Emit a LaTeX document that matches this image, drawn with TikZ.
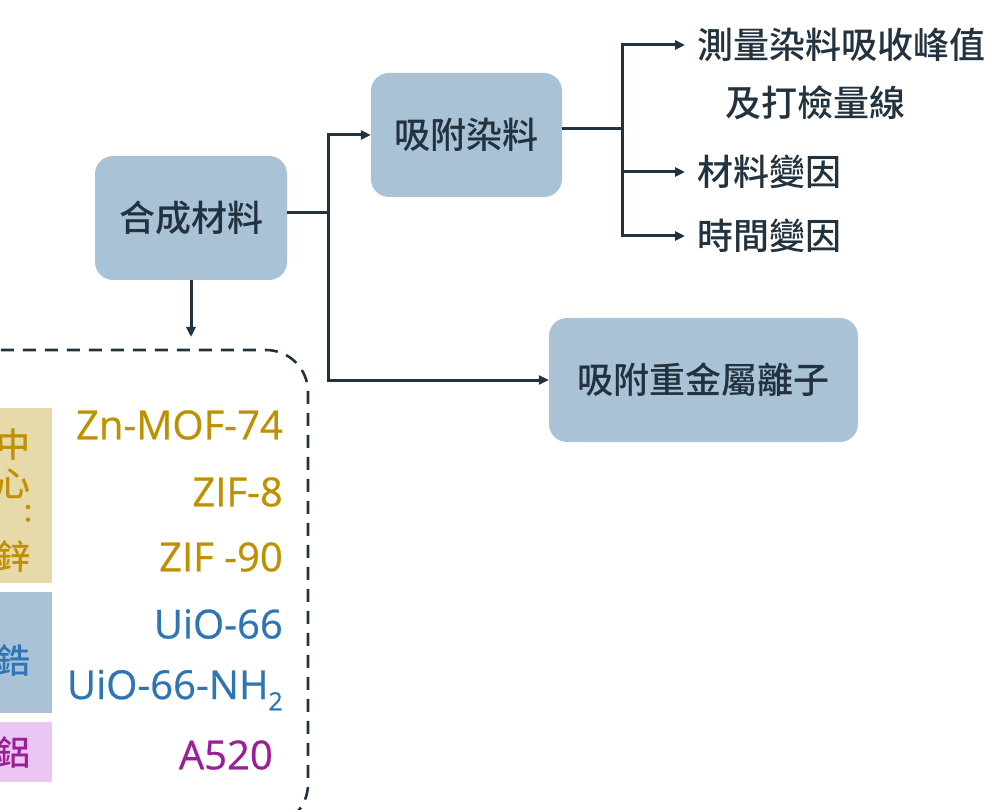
\documentclass[tikz,border=0pt]{standalone}
\usepackage{fontspec}
\setmainfont{Noto Sans CJK TC}[UprightFont=* Medium]
\newfontfamily\lat{Open Sans}[FakeBold=0.6]
\usetikzlibrary{arrows.meta}
\definecolor{boxfill}{HTML}{A9C2D5}
\definecolor{ink}{HTML}{22323E}
\definecolor{gold}{HTML}{BF9000}
\definecolor{goldfill}{HTML}{E6DAAB}
\definecolor{zrblue}{HTML}{2E75B6}
\definecolor{purp}{HTML}{9B1E96}
\definecolor{pinkfill}{HTML}{EBC6F2}
\tikzset{
  procbox/.style={fill=boxfill, rounded corners=18pt, text=ink, font=\fontsize{36}{42}\selectfont, inner sep=0pt},
  conn/.style={draw=ink, line width=3pt},
  arr/.style={conn, -{Triangle[length=10pt,width=9pt]}},
  lbl/.style={text=ink, font=\fontsize{36}{42}\selectfont, anchor=west, inner sep=0pt},
  mof/.style={anchor=east, inner sep=0pt, font=\lat\fontsize{40}{44}\selectfont},
  stripch/.style={inner sep=0pt, font=\fontsize{34}{38}\selectfont}
}
\begin{document}
\begin{tikzpicture}[x=1pt,y=-1pt]
\useasboundingbox (0,0) rectangle (988,810);
% main boxes
\node[procbox, minimum width=192pt, minimum height=124pt] (syn) at (191,218) {合成材料};
\node[procbox, minimum width=191pt, minimum height=124pt] (dye) at (466.5,135) {吸附染料};
\node[procbox, minimum width=309pt, minimum height=124pt] (hm) at (703.5,380) {吸附重金屬離子};
% right labels
\node[lbl] (l1) at (697,45) {測量染料吸收峰值};
\node[lbl] (l1b) at (725,103) {及打檢量線};
\node[lbl] (l2) at (697,172) {材料變因};
\node[lbl] (l3) at (697,236) {時間變因};
% junction coordinates
\coordinate (j1) at (328,213);
\coordinate (j2) at (622,129);
% connectors from synthesis
\draw[conn] (syn.east |- j1) -- (j1);
\draw[arr] (j1) |- (hm.west);
\draw[arr] (j1) |- (dye.west);
% connectors from dye
\draw[conn] (dye.east |- j2) -- (j2);
\draw[arr] (j2) |- ([xshift=-12pt]l1.west);
\draw[arr] (j2) |- ([xshift=-12pt]l2.west);
\draw[arr] (j2) |- ([xshift=-12pt]l3.west);
% dashed group
\draw[ink, line width=2.6pt, dash pattern=on 13pt off 9pt, rounded corners=42pt] (-60,350) rectangle (308,826);
\coordinate (grp) at (191,337);
\draw[arr] (syn.south) -- (grp);
% strips
\fill[goldfill] (-5,408) rectangle (52,583);
\fill[boxfill] (-5,592) rectangle (52,713);
\fill[pinkfill] (-5,722) rectangle (52,782);
\node[stripch, text=gold] (c1) at (14,445) {中};
\node[stripch, text=gold] (c2) at (14,484) {心};
\node[inner sep=0pt, text=gold, font=\fontsize{26}{28}\selectfont] (c3) at (28,514) {：};
\node[stripch, text=gold] (c4) at (14,556) {鋅};
\node[stripch, text=zrblue] (c5) at (14,660) {鋯};
\node[stripch, text=purp] (c6) at (14,752) {鋁};
% MOF names
\node[mof, text=gold] (m1) at (283,425) {Zn-MOF-74};
\node[mof, text=gold] (m2) at (283,492) {ZIF-8};
\node[mof, text=gold] (m3) at (283,557) {ZIF -90};
\node[mof, text=zrblue] (m4) at (283,624) {UiO-66};
\node[mof, text=zrblue] (m5) at (283,690) {UiO-66-NH\raisebox{-0.28em}{\lat\fontsize{25}{26}\selectfont 2}};
\node[mof, text=purp] (m6) at (273,755) {A520};
\end{tikzpicture}
\end{document}
